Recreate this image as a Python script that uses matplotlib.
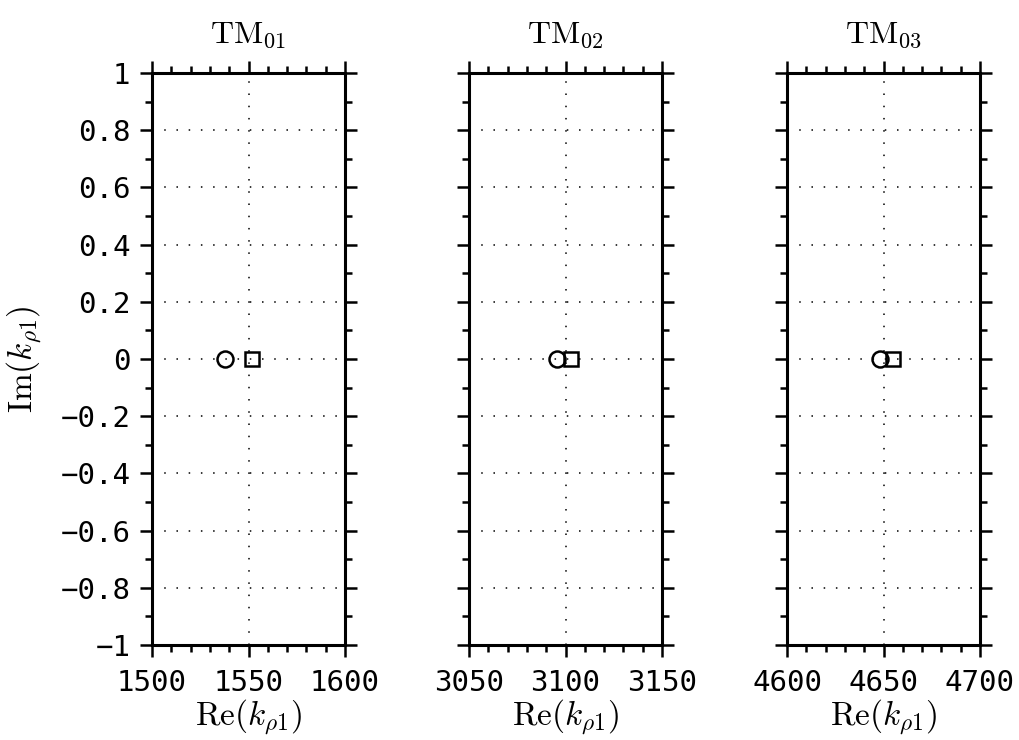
import matplotlib
matplotlib.use("Agg")
import matplotlib.pyplot as plt
from matplotlib.ticker import MultipleLocator, FixedLocator

# ---- data ----
titles = [r"$\mathrm{TM}_{01}$", r"$\mathrm{TM}_{02}$", r"$\mathrm{TM}_{03}$"]
circle_re = [1538.0, 3095.5, 4648.3]
circle_im = [0.0, 0.0, 0.0]
square_re = [1552.0, 3103.0, 4655.0]
square_im = [0.0, 0.0, 0.0]
x_ranges = [(1500, 1600), (3050, 3150), (4600, 4700)]
x_ticks = [[1500, 1550, 1600], [3050, 3100, 3150], [4600, 4650, 4700]]
y_ticks = [-1.0, -0.8, -0.6, -0.4, -0.2, 0.0, 0.2, 0.4, 0.6, 0.8, 1.0]
y_ticklabels = ["\u22121", "\u22120.8", "\u22120.6", "\u22120.4", "\u22120.2", "0",
                "0.2", "0.4", "0.6", "0.8", "1"]

plt.rcParams["mathtext.fontset"] = "cm"

W, H = 1020, 740
fig = plt.figure(figsize=(W / 100, H / 100), dpi=100)

lefts = [152, 469, 787]
axw = 193
top, bottom = 73, 645

mono = "DejaVu Sans Mono"
for i in range(3):
    ax = fig.add_axes([lefts[i] / W, 1 - bottom / H, axw / W, (bottom - top) / H])
    ax.plot([circle_re[i]], [circle_im[i]], linestyle="none", marker="o",
            markersize=11.5, markerfacecolor="none", markeredgecolor="black",
            markeredgewidth=1.8, zorder=5)
    ax.plot([square_re[i]], [square_im[i]], linestyle="none", marker="s",
            markersize=10.0, markerfacecolor="none", markeredgecolor="black",
            markeredgewidth=1.8, zorder=5)
    ax.set_xlim(*x_ranges[i])
    ax.set_ylim(-1, 1)
    ax.xaxis.set_major_locator(FixedLocator(x_ticks[i]))
    ax.xaxis.set_minor_locator(MultipleLocator(10))
    ax.set_xticklabels([str(t) for t in x_ticks[i]], fontfamily=mono, fontsize=21)
    ax.yaxis.set_major_locator(FixedLocator(y_ticks))
    ax.yaxis.set_minor_locator(MultipleLocator(0.1))
    if i == 0:
        ax.set_yticklabels(y_ticklabels, fontfamily=mono, fontsize=21)
        ax.set_ylabel(r"$\mathrm{Im}(k_{\rho 1})$", fontsize=24, labelpad=12)
    else:
        ax.set_yticklabels([])
    ax.tick_params(which="both", direction="out", top=True, right=True,
                   color="black", width=1.8)
    ax.tick_params(which="major", length=8.6, pad=7)
    ax.tick_params(which="minor", length=4.8)
    ax.tick_params(axis="x", which="major", pad=9)
    for sp in ax.spines.values():
        sp.set_linewidth(2.2)
    ax.grid(True, which="major", color="black", linestyle=(0, (1, 7)), linewidth=1.1)
    ax.set_xlabel(r"$\mathrm{Re}(k_{\rho 1})$", fontsize=24, labelpad=0)
    ax.set_title(titles[i], fontsize=23, pad=22)

fig.savefig("out.png", dpi=100)
